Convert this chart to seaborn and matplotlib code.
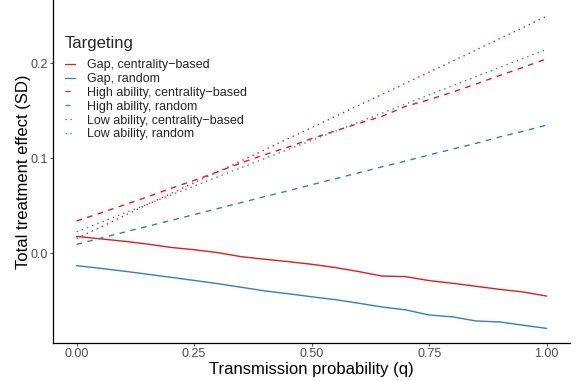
import numpy as np
import pandas as pd
import matplotlib
matplotlib.use("Agg")
import matplotlib.pyplot as plt
import seaborn as sns

q = [0.00, 0.05, 0.10, 0.15, 0.20, 0.25, 0.30, 0.35, 0.40, 0.45, 0.50,
     0.55, 0.60, 0.65, 0.70, 0.75, 0.80, 0.85, 0.90, 0.95, 1.00]

gap_central = [0.0175, 0.0150, 0.0125, 0.0095, 0.0060, 0.0035, 0.0005, -0.0038,
               -0.0065, -0.0090, -0.0118, -0.0152, -0.0195, -0.0242, -0.0248,
               -0.0290, -0.0318, -0.0350, -0.0382, -0.0410, -0.0453]
gap_random = [-0.0133, -0.0160, -0.0190, -0.0222, -0.0255, -0.0288, -0.0322, -0.0360,
              -0.0398, -0.0428, -0.0460, -0.0490, -0.0528, -0.0568, -0.0598,
              -0.0652, -0.0672, -0.0715, -0.0725, -0.0760, -0.0793]
high_central = [0.0337, 0.0420, 0.0505, 0.0590, 0.0680, 0.0765, 0.0855, 0.0950,
                0.1035, 0.1115, 0.1205, 0.1285, 0.1365, 0.1440, 0.1545, 0.1615,
                0.1695, 0.1780, 0.1870, 0.1955, 0.2045]
high_random = [0.0091, 0.0155, 0.0218, 0.0280, 0.0343, 0.0405, 0.0468, 0.0531,
               0.0594, 0.0655, 0.0719, 0.0782, 0.0845, 0.0908, 0.0969, 0.1033,
               0.1095, 0.1155, 0.1222, 0.1283, 0.1347]
low_central = [0.0154, 0.0270, 0.0390, 0.0510, 0.0625, 0.0740, 0.0855, 0.0970,
               0.1087, 0.1205, 0.1320, 0.1438, 0.1555, 0.1670, 0.1788, 0.1905,
               0.2020, 0.2138, 0.2258, 0.2375, 0.2495]
low_random = [0.0225, 0.0320, 0.0418, 0.0513, 0.0610, 0.0705, 0.0802, 0.0898,
              0.0995, 0.1090, 0.1186, 0.1282, 0.1378, 0.1474, 0.1570, 0.1666,
              0.1762, 0.1858, 0.1954, 0.2050, 0.2144]

labels = ["Gap, centrality\u2212based", "Gap, random",
          "High ability, centrality\u2212based", "High ability, random",
          "Low ability, centrality\u2212based", "Low ability, random"]
series = [gap_central, gap_random, high_central, high_random, low_central, low_random]

x_ticks = [0.00, 0.25, 0.50, 0.75, 1.00]
x_ticklabels = ["0.00", "0.25", "0.50", "0.75", "1.00"]
y_ticks = [0.0, 0.1, 0.2]
y_ticklabels = ["0.0", "0.1", "0.2"]

rows = []
for lab, vals in zip(labels, series):
    for qq, v in zip(q, vals):
        rows.append({"q": qq, "effect": v, "Targeting": lab})
df = pd.DataFrame(rows)

RED = "#E41A1C"
BLUE = "#377EB8"
palette = {labels[0]: RED, labels[1]: BLUE, labels[2]: RED,
           labels[3]: BLUE, labels[4]: RED, labels[5]: BLUE}
dashes = {labels[0]: "", labels[1]: "", labels[2]: (4, 4),
          labels[3]: (4, 4), labels[4]: (1, 3), labels[5]: (1, 3)}

sns.set_theme(style="white")
plt.rcParams['font.family'] = ['Liberation Sans', 'DejaVu Sans']

fig = plt.figure(figsize=(5.83, 3.81), dpi=100)
ax = fig.add_axes([0.091, 0.0997, 0.887, 0.9])

sns.lineplot(data=df, x="q", y="effect", hue="Targeting", style="Targeting",
             palette=palette, dashes=dashes, hue_order=labels, style_order=labels,
             linewidth=1.0, ax=ax, legend=True)

ax.set_xlim(-0.05, 1.05)
ax.set_ylim(-0.0947, 0.2663)
ax.set_xticks(x_ticks)
ax.set_xticklabels(x_ticklabels)
ax.set_yticks(y_ticks)
ax.set_yticklabels(y_ticklabels)
ax.tick_params(axis="both", which="both", direction="out", length=2.2, width=0.6,
               color="#333333", labelcolor="#4D4D4D", labelsize=9, pad=1.5,
               bottom=True, left=True)
for s in ["top", "right"]:
    ax.spines[s].set_visible(False)
for s in ["left", "bottom"]:
    ax.spines[s].set_color("black")
    ax.spines[s].set_linewidth(0.9)

ax.set_xlabel("Transmission probability (q)", fontsize=12, color="black", labelpad=1.5)
ax.set_ylabel("Total treatment effect (SD)", fontsize=12, color="black", labelpad=0)

leg = ax.legend(title="Targeting", loc="upper left", bbox_to_anchor=(0.023, 0.894),
                frameon=False, fontsize=9, title_fontsize=12, handlelength=0.8,
                handletextpad=1.0, labelspacing=0.15, borderaxespad=0.0, borderpad=0.0)
leg._legend_box.align = "left"
leg._legend_box.sep = 5.5
for line in leg.get_lines():
    line.set_linewidth(0.9)

fig.savefig("out.png", dpi=100)
